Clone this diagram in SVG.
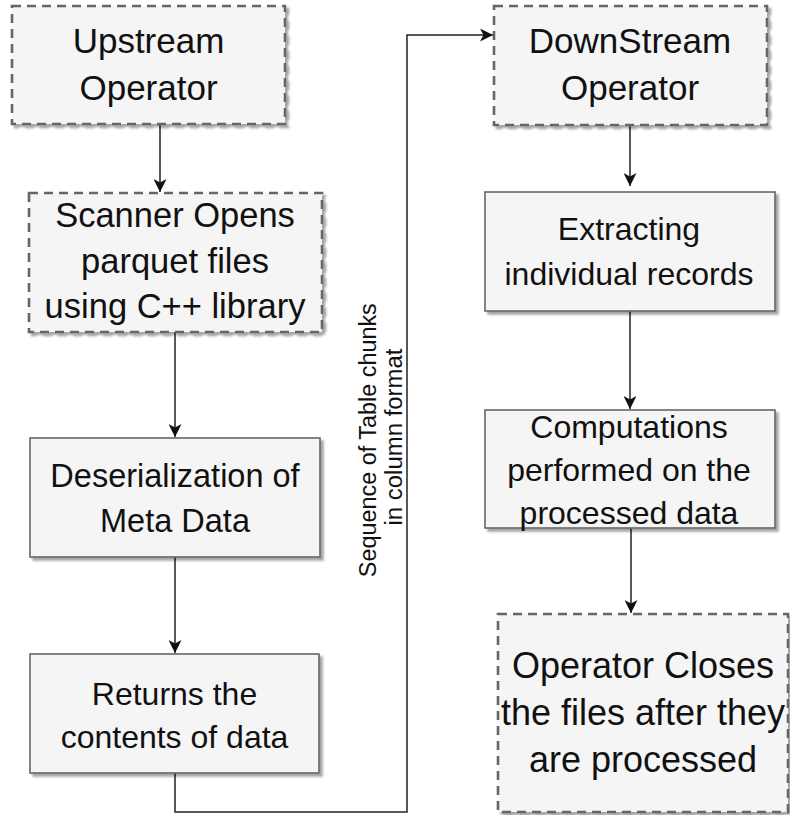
<svg xmlns="http://www.w3.org/2000/svg" width="790" height="815" viewBox="0 0 790 815">
  <defs>
    <filter id="shadow" x="-10%" y="-10%" width="130%" height="130%">
      <feDropShadow dx="3" dy="3" stdDeviation="1.3" flood-color="#000" flood-opacity="0.35"/>
    </filter>
    <marker id="arrow" viewBox="0 0 13 13" refX="13" refY="6.5" markerWidth="13" markerHeight="13" markerUnits="userSpaceOnUse" orient="auto">
      <path d="M0,0 L13,6.5 L0,13 L3.5,6.5 Z" fill="#111"/>
    </marker>
  </defs>
  <style>
    .box { fill: #f5f5f5; stroke: #666; stroke-width: 1.6; filter: url(#shadow); }
    .dashed { stroke-width: 2.6; stroke-dasharray: 9 6; }
    .label { font-family: "Liberation Sans", Arial, Helvetica, sans-serif; fill: #111; text-anchor: middle; }
    .edge { fill: none; stroke: #222; stroke-width: 1.5; marker-end: url(#arrow); }
  </style>
  <rect width="790" height="815" fill="#fff"/>

  <!-- connectors -->
  <g id="edges">
    <line class="edge" x1="160" y1="124" x2="160" y2="192"/>
    <line class="edge" x1="175" y1="332" x2="175" y2="437"/>
    <line class="edge" x1="175" y1="557" x2="175" y2="653"/>
    <path class="edge" d="M175,773 L175,812 L407,812 L407,35 L493,35"/>
    <line class="edge" x1="630" y1="125" x2="630" y2="186"/>
    <line class="edge" x1="630" y1="311" x2="630" y2="409"/>
    <line class="edge" x1="631" y1="528" x2="631" y2="613"/>
    <text class="label" font-size="23" transform="translate(376 437) rotate(-90)">
      <tspan x="0" y="0" textLength="274" lengthAdjust="spacingAndGlyphs">Sequence of Table chunks</tspan>
      <tspan x="0" y="26" textLength="177" lengthAdjust="spacingAndGlyphs">in column format</tspan>
    </text>
  </g>

  <!-- left column -->
  <g id="upstream">
    <rect class="box dashed" x="12" y="6" width="273" height="118"/>
    <text class="label" font-size="35"><tspan x="148.5" y="53">Upstream</tspan><tspan x="148.5" y="100">Operator</tspan></text>
  </g>
  <g id="scanner">
    <rect class="box dashed" x="29" y="193" width="293" height="139"/>
    <text class="label" font-size="34.5"><tspan x="175" y="227">Scanner Opens</tspan><tspan x="175" y="273">parquet files</tspan><tspan x="175" y="318">using C++ library</tspan></text>
  </g>
  <g id="deserialization">
    <rect class="box" x="30" y="438" width="290" height="119"/>
    <text class="label" font-size="32.5"><tspan x="175" y="487">Deserialization of</tspan><tspan x="175" y="532">Meta Data</tspan></text>
  </g>
  <g id="returns">
    <rect class="box" x="30" y="654" width="289" height="119"/>
    <text class="label" font-size="32"><tspan x="174.5" y="705">Returns the</tspan><tspan x="174.5" y="748">contents of data</tspan></text>
  </g>

  <!-- right column -->
  <g id="downstream">
    <rect class="box dashed" x="494" y="6" width="273" height="119"/>
    <text class="label" font-size="35"><tspan x="630" y="53">DownStream</tspan><tspan x="630" y="100">Operator</tspan></text>
  </g>
  <g id="extracting">
    <rect class="box" x="485" y="192" width="290" height="119"/>
    <text class="label" font-size="32"><tspan x="629" y="240">Extracting</tspan><tspan x="629" y="285">individual records</tspan></text>
  </g>
  <g id="computations">
    <rect class="box" x="485" y="410" width="290" height="118"/>
    <text class="label" font-size="32"><tspan x="629" y="438">Computations</tspan><tspan x="629" y="481">performed on the</tspan><tspan x="629" y="524">processed data</tspan></text>
  </g>
  <g id="closes">
    <rect class="box dashed" x="498" y="614" width="290" height="198"/>
    <text class="label" font-size="36"><tspan x="643" y="678">Operator Closes</tspan><tspan x="643" y="725">the files after they</tspan><tspan x="643" y="772">are processed</tspan></text>
  </g>
</svg>
